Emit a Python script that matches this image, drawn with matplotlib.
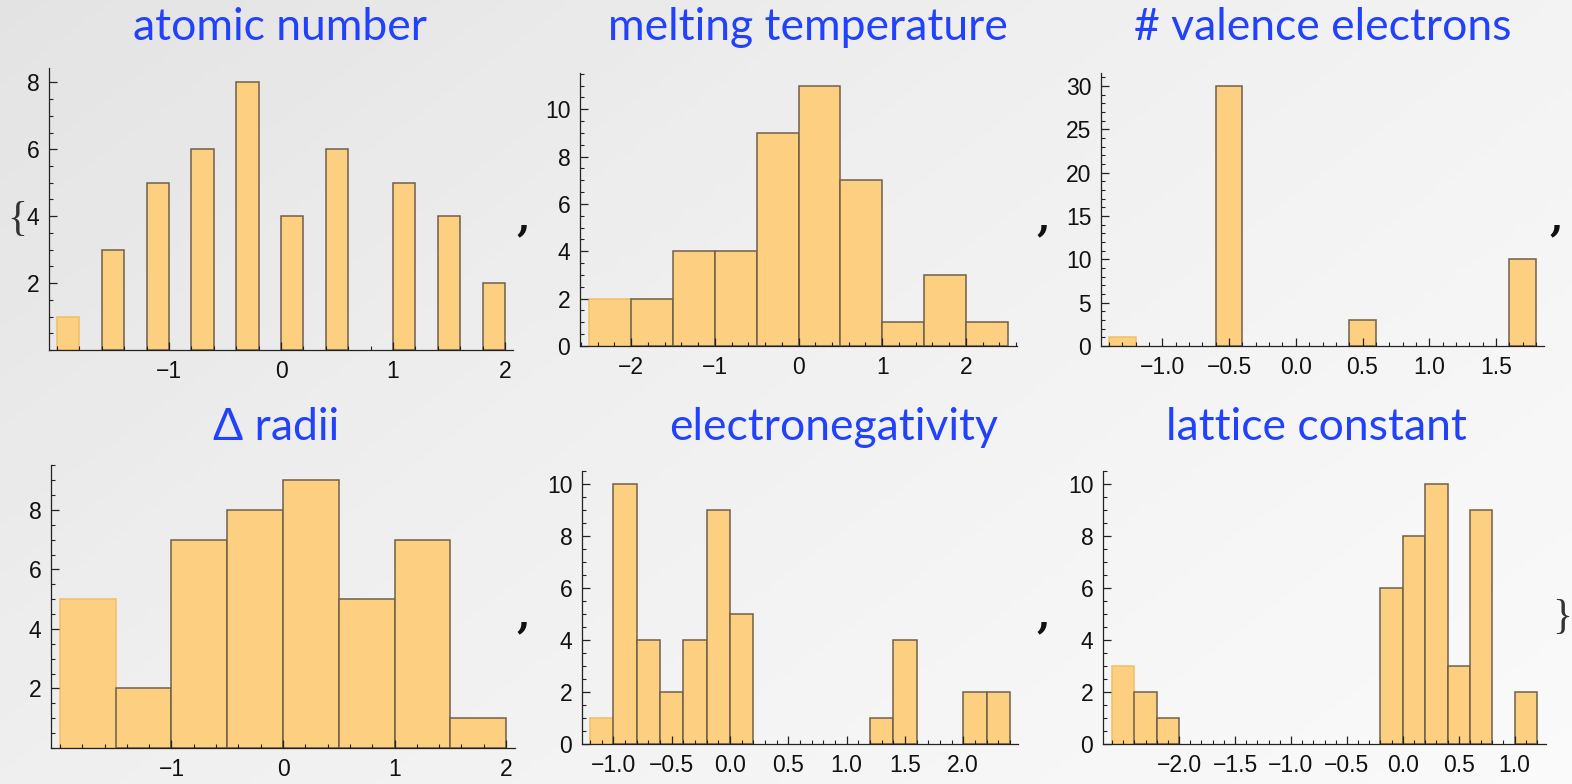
import numpy as np
import matplotlib
matplotlib.use("Agg")
import matplotlib.pyplot as plt
from matplotlib.ticker import MultipleLocator, FixedLocator

W, H = 1572, 784

# --- histogram data: first bin edge, bin width, counts per bin ---
titles = ["atomic number", "melting temperature", "# valence electrons",
          "\u0394 radii", "electronegativity", "lattice constant"]

atomic_start, atomic_width = -2.0, 0.2
atomic_counts = [1, 0, 3, 0, 5, 0, 6, 0, 8, 0, 4, 0, 6, 0, 0, 5, 0, 4, 0, 2]

melting_start, melting_width = -2.5, 0.5
melting_counts = [2, 2, 4, 4, 9, 11, 7, 1, 3, 1]

valence_start, valence_width = -1.4, 0.2
valence_counts = [1, 0, 0, 0, 30, 0, 0, 0, 0, 3, 0, 0, 0, 0, 0, 10]

radii_start, radii_width = -2.0, 0.5
radii_counts = [5, 2, 7, 8, 9, 5, 7, 1]

electroneg_start, electroneg_width = -1.2, 0.2
electroneg_counts = [1, 10, 4, 2, 4, 9, 5, 0, 0, 0, 0, 0, 1, 4, 0, 0, 2, 2]

lattice_start, lattice_width = -2.6, 0.2
lattice_counts = [3, 2, 1, 0, 0, 0, 0, 0, 0, 0, 0, 0, 6, 8, 10, 3, 9, 0, 2]

# tick setup per panel
x_major = [[-1, 0, 1, 2], [-2, -1, 0, 1, 2], [-1.0, -0.5, 0.0, 0.5, 1.0, 1.5],
           [-1, 0, 1, 2], [-1.0, -0.5, 0.0, 0.5, 1.0, 1.5, 2.0],
           [-2.0, -1.5, -1.0, -0.5, 0.0, 0.5, 1.0]]
y_major = [[2, 4, 6, 8], [0, 2, 4, 6, 8, 10], [0, 5, 10, 15, 20, 25, 30],
           [2, 4, 6, 8], [0, 2, 4, 6, 8, 10], [0, 2, 4, 6, 8, 10]]

# layout (pixel boxes: left, right, top, bottom) and limits
boxes = [(49, 513, 68, 350), (580, 1017, 73, 346), (1101, 1544, 73, 346),
         (51, 515, 465, 748), (582, 1018, 471, 744), (1103, 1546, 471, 744)]
xlims = [(-2.07, 2.07), (-2.61, 2.61), (-1.46, 1.86),
         (-2.08, 2.08), (-1.27, 2.47), (-2.68, 1.28)]
ylims = [8.43, 11.53, 31.5, 9.51, 10.51, 10.51]
x_minor = [0.2, 0.2, 0.1, 0.2, 0.1, 0.1]
y_minor = [0.5, 0.5, 1, 0.5, 0.5, 0.5]
title_pos = [(280, 40), (808, 40), (1323, 40), (276, 440), (834, 440), (1316, 440)]

hist_data = [(atomic_start, atomic_width, atomic_counts),
             (melting_start, melting_width, melting_counts),
             (valence_start, valence_width, valence_counts),
             (radii_start, radii_width, radii_counts),
             (electroneg_start, electroneg_width, electroneg_counts),
             (lattice_start, lattice_width, lattice_counts)]

fig = plt.figure(figsize=(W / 100, H / 100), dpi=100)

# gradient background
bg = fig.add_axes([0, 0, 1, 1], zorder=-10)
gx, gy = np.meshgrid(np.linspace(0, 1, 200), np.linspace(0, 1, 200))
grad = 0.6 * gx + 0.4 * gy
bg.imshow(grad, cmap="Greys_r", vmin=-5.2, vmax=1.25, aspect="auto",
          extent=[0, 1, 1, 0])
bg.set_axis_off()

tick_font = "Liberation Sans"
title_font = "Lato"
blue = "#2141fb"


def fx(px):
    return px / W


def fy(py):
    return 1 - py / H


for i, (start, width, counts) in enumerate(hist_data):
    l, r, t, b = boxes[i]
    ax = fig.add_axes([fx(l), fy(b), fx(r) - fx(l), fy(t) - fy(b)])
    ax.patch.set_alpha(0)
    counts = np.array(counts)
    lefts = start + width * np.arange(len(counts))
    nz = counts > 0
    bars = ax.bar(lefts[nz], counts[nz], width=width, align="edge",
                  color="#fdcf80", edgecolor="#6f604a", linewidth=1.1)
    bars[0].set_edgecolor("#f2bd66")
    ax.set_xlim(*xlims[i])
    ax.set_ylim(0, ylims[i])
    for s in ["top", "right"]:
        ax.spines[s].set_visible(False)
    for s in ["left", "bottom"]:
        ax.spines[s].set_color("#222222")
        ax.spines[s].set_linewidth(0.9)
    ax.xaxis.set_major_locator(FixedLocator(x_major[i]))
    ax.yaxis.set_major_locator(FixedLocator(y_major[i]))
    ax.xaxis.set_minor_locator(MultipleLocator(x_minor[i]))
    ax.yaxis.set_minor_locator(MultipleLocator(y_minor[i]))
    if x_minor[i] == 0.1:
        ax.set_xticklabels([f"{v:.1f}".replace("-", "\u2212") for v in x_major[i]])
    else:
        ax.set_xticklabels([f"{v:d}".replace("-", "\u2212") for v in x_major[i]])
    ax.tick_params(which="major", direction="in", length=5.5, width=0.9,
                   color="#222222", labelsize=16.5, pad=7)
    ax.tick_params(which="minor", direction="in", length=3, width=0.8,
                   color="#222222")
    for lab in ax.get_xticklabels() + ax.get_yticklabels():
        lab.set_fontfamily(tick_font)
        lab.set_color("#111111")
    tx, ty = title_pos[i]
    fig.text(fx(tx), fy(ty), titles[i], ha="center", va="baseline",
             color=blue, fontsize=32, fontfamily=title_font)

# list punctuation around the panels
for cx, cy in [(523, 230), (1043, 230), (1556, 230), (523, 627), (1043, 627)]:
    fig.text(fx(cx), fy(cy), ",", ha="center", va="baseline", fontsize=28,
             fontweight="bold", fontfamily="DejaVu Serif", color="#111111")
fig.text(fx(17), fy(220), "{", ha="center", va="center", fontsize=30,
         fontfamily="Liberation Serif", color="#333333")
fig.text(fx(1562), fy(618), "}", ha="center", va="center", fontsize=30,
         fontfamily="Liberation Serif", color="#333333")

fig.savefig("out.png", dpi=100)
